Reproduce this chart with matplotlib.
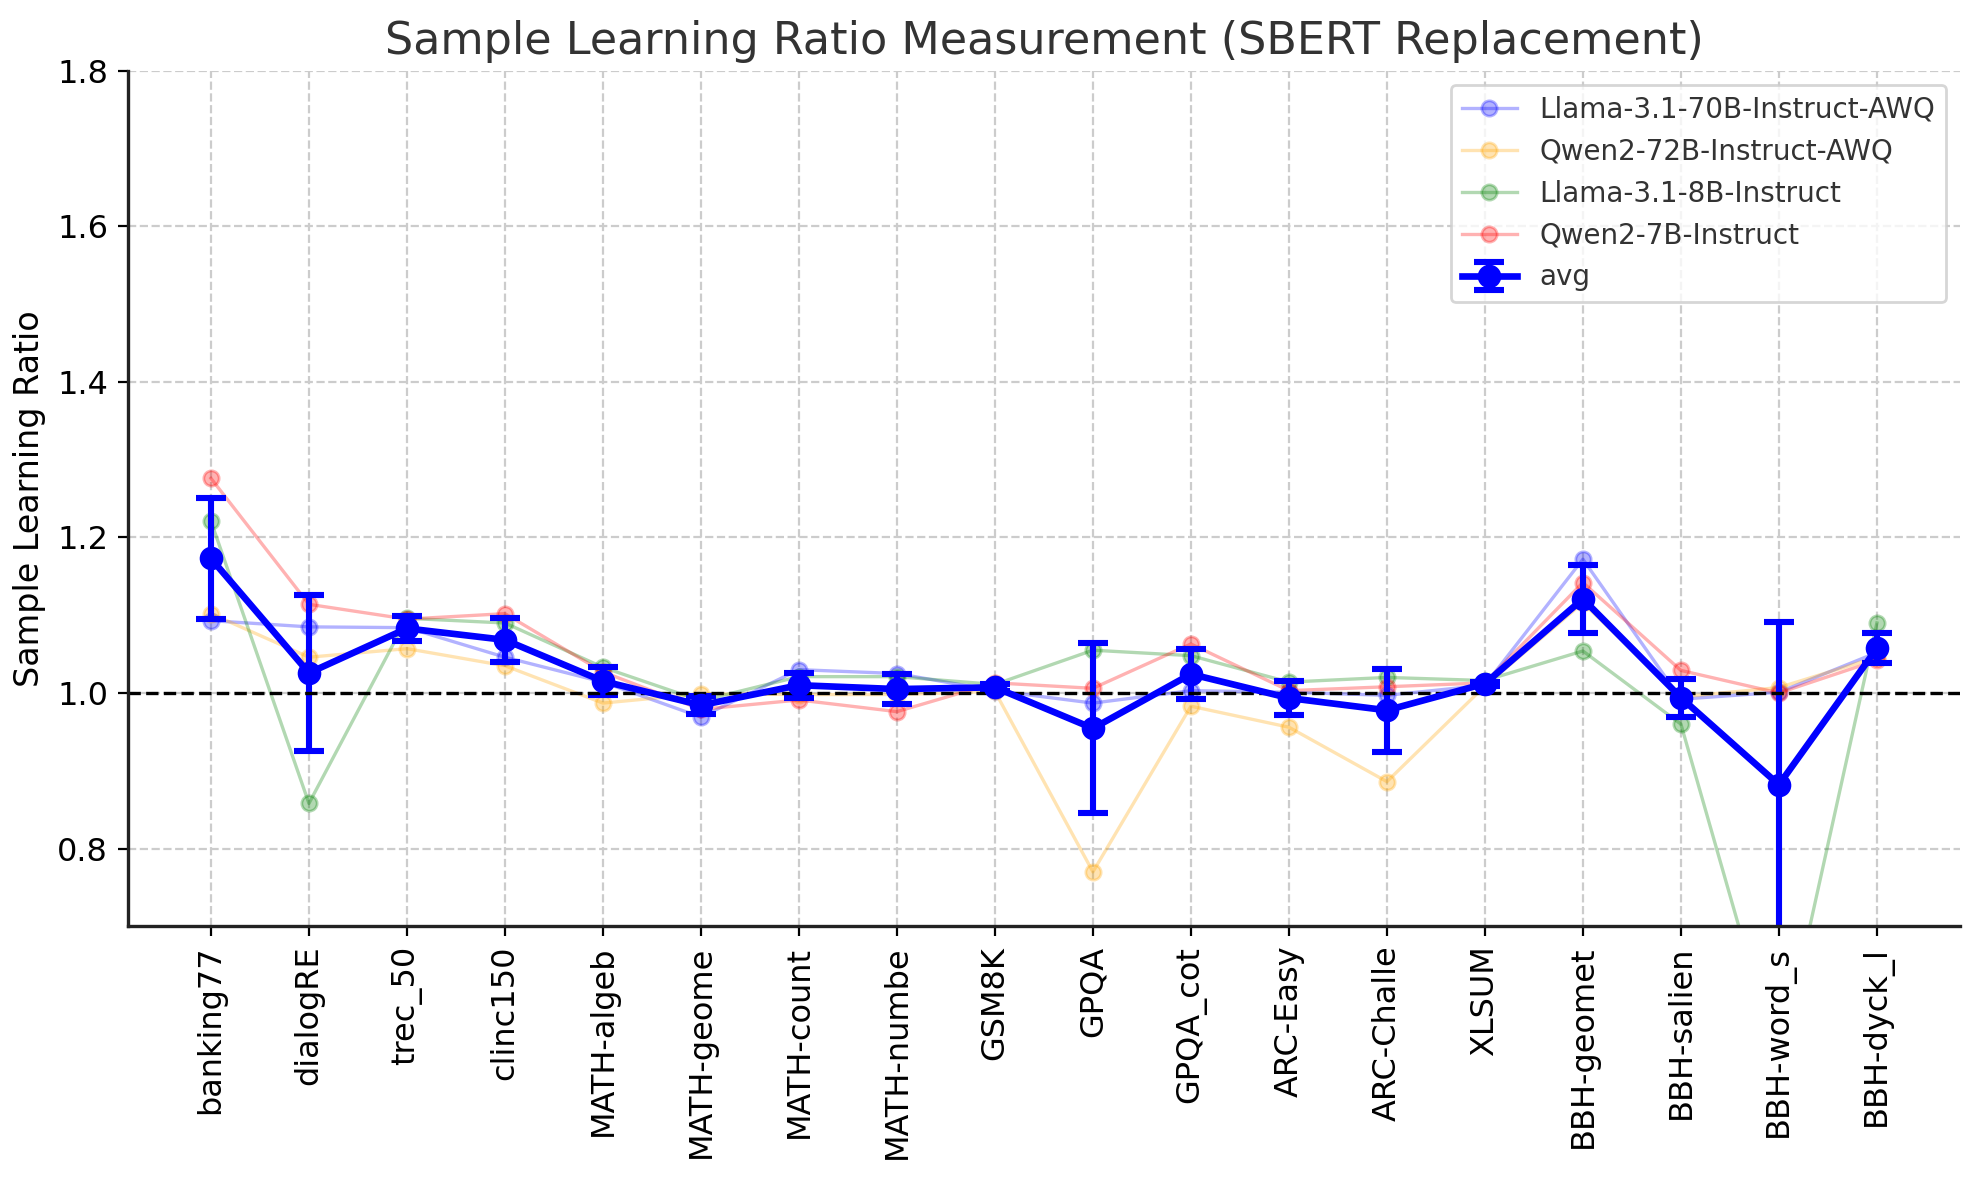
import matplotlib
matplotlib.use('Agg')
import matplotlib.pyplot as plt
import numpy as np

tasks = ['banking77', 'dialogRE', 'trec_50', 'clinc150', 'MATH-algeb', 'MATH-geome',
         'MATH-count', 'MATH-numbe', 'GSM8K', 'GPQA', 'GPQA_cot', 'ARC-Easy',
         'ARC-Challe', 'XLSUM', 'BBH-geomet', 'BBH-salien', 'BBH-word_s', 'BBH-dyck_l']

llama70 = [1.093, 1.085, 1.084, 1.046, 1.014, 0.969, 1.030, 1.025, 1.003, 0.987,
           1.003, 1.001, 0.997, 1.010, 1.172, 0.992, 1.001, 1.052]
qwen72 = [1.102, 1.046, 1.057, 1.035, 0.987, 0.999, 0.998, 0.998, 1.002, 0.770,
          0.983, 0.956, 0.886, 1.009, 1.116, 0.995, 1.007, 1.046]
llama8 = [1.221, 0.858, 1.096, 1.090, 1.033, 0.990, 1.021, 1.021, 1.011, 1.055,
          1.048, 1.014, 1.020, 1.016, 1.054, 0.960, 0.520, 1.090]
qwen7 = [1.276, 1.114, 1.095, 1.102, 1.027, 0.979, 0.991, 0.976, 1.013, 1.006,
         1.063, 1.003, 1.008, 1.013, 1.142, 1.029, 1.000, 1.042]

models = ['Llama-3.1-70B-Instruct-AWQ', 'Qwen2-72B-Instruct-AWQ',
          'Llama-3.1-8B-Instruct', 'Qwen2-7B-Instruct']
colors = ['blue', 'orange', 'green', 'red']

data = np.array([llama70, qwen72, llama8, qwen7])
avg = data.mean(axis=0)
std = data.std(axis=0)

fig = plt.figure(figsize=(9.895, 5.9), dpi=200)
ax = fig.add_axes([0.0645, 0.215, 0.926, 0.725])

x = np.arange(len(tasks))
for vals, name, c in zip(data, models, colors):
    ax.plot(x, vals, marker='o', color=c, alpha=0.3, label=name,
            linewidth=1.2, markersize=5.5)

ax.errorbar(x, avg, yerr=std, fmt='-o', color='blue', label='avg',
            linewidth=2.4, markersize=7.5, elinewidth=2.2, capsize=5.5, capthick=2.2)

ax.axhline(1.0, color='black', linestyle='--', linewidth=1.2)

ax.set_ylim(0.7, 1.8)
ax.set_xticks(x)
ax.set_xticklabels(tasks, rotation=90, fontsize=11.5)
ax.tick_params(axis='y', labelsize=11.5)
ax.set_ylabel('Sample Learning Ratio', fontsize=12)
ax.set_title('Sample Learning Ratio Measurement (SBERT Replacement)', fontsize=16, color='#333333')
ax.grid(True, linestyle='--', color='#cccccc', linewidth=0.8)
ax.set_axisbelow(True)
for s in ['top', 'right']:
    ax.spines[s].set_visible(False)
for s in ['left', 'bottom']:
    ax.spines[s].set_color('#222222')
    ax.spines[s].set_linewidth(1.2)

leg = ax.legend(loc='upper right', fontsize=10)
for t in leg.get_texts():
    t.set_color('#333333')

fig.savefig('out.png', dpi=200)
